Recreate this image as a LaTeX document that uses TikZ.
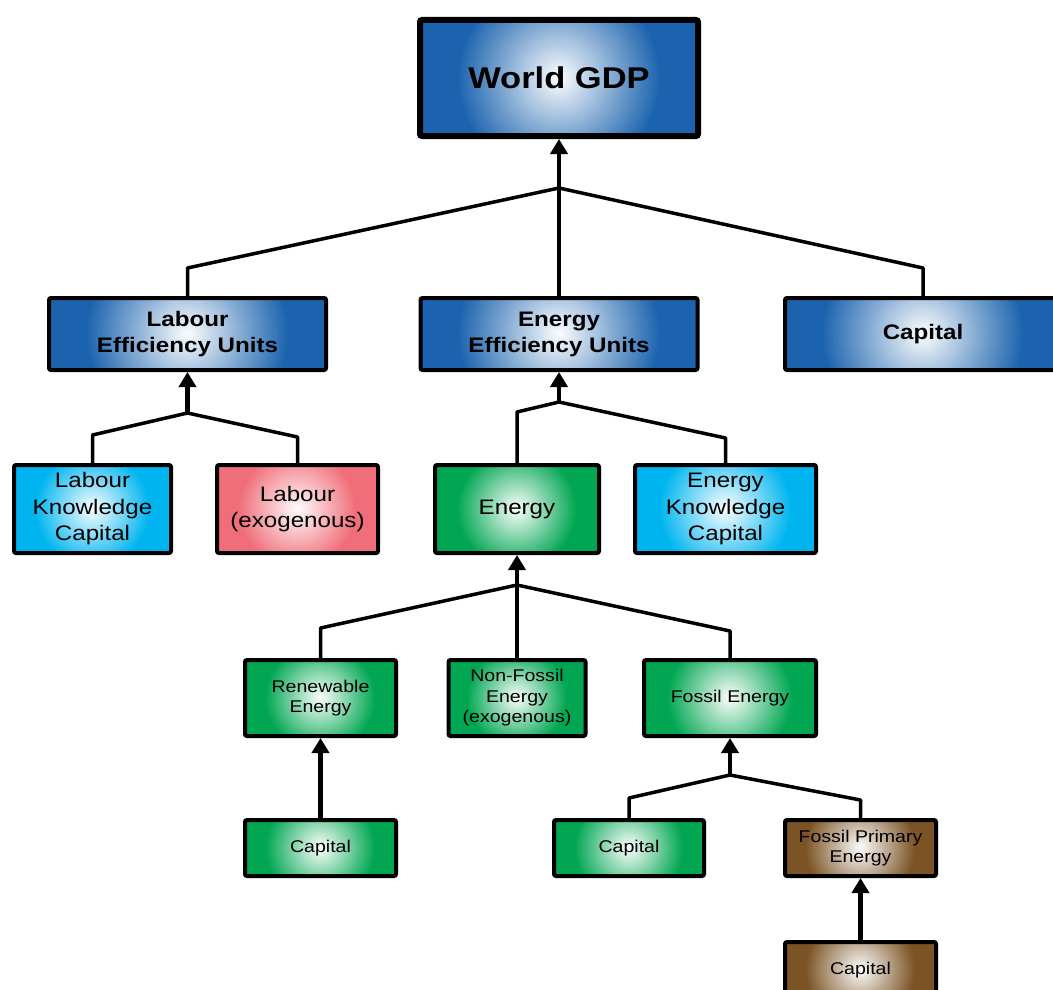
\documentclass[tikz,border=0pt]{standalone}
\usepackage{fontspec}
\setmainfont{Liberation Sans}[FakeStretch=1.15]
\usepackage{tikz}
\usetikzlibrary{arrows.meta,calc,positioning}
\definecolor{wgblue}{HTML}{1B63AE}
\definecolor{wgcyan}{HTML}{00B5EF}
\definecolor{wgred}{HTML}{EF6E79}
\definecolor{wggreen}{HTML}{00A651}
\definecolor{wgbrown}{HTML}{7B5324}
\newcommand\gdpfnt{\fontsize{30}{35}\selectfont\bfseries}
\newcommand\headfnt{\fontsize{21}{26}\selectfont\bfseries}
\newcommand\midfnt{\fontsize{21}{26.5}\selectfont}
\newcommand\smallfnt{\fontsize{17}{20.5}\selectfont}
\tikzset{
  glow/.style={draw=black,line width=4pt,rounded corners=2pt,fill=#1,align=center,
    inner sep=0pt,text=black,
    path picture={
      \foreach \k [evaluate=\k as \pct using {100*\k/40}] in {40,39,...,1}
        \fill[#1!\pct!white]
          let \p1=(path picture bounding box.east),\p2=(path picture bounding box.west) in
          (path picture bounding box.center) circle ({0.37*(\x1-\x2)*\k/40});}},
  gdpbox/.style={glow=wgblue,line width=6pt,minimum width=278pt,minimum height=116pt,font=\gdpfnt},
  headbox/.style={glow=wgblue,minimum width=277pt,minimum height=72pt,font=\headfnt},
  midbox/.style={glow=#1,minimum height=88pt,font=\midfnt},
  smallbox/.style={glow=#1,minimum width=151pt,font=\smallfnt},
  link/.style={line width=3.5pt,line join=round},
  flow/.style={-{Triangle[length=15pt,width=17pt]},line width=4.5pt}
}
\begin{document}
\begin{tikzpicture}[x=1pt,y=1pt]
  \useasboundingbox (0,0) rectangle (1053,-990);
  \node[gdpbox] (gdp) at (559,-78) {World GDP};
  \node[headbox] (leu) at (187.5,-334) {Labour\\Efficiency Units};
  \node[headbox] (eeu) at (559,-334) {Energy\\Efficiency Units};
  \node[headbox,minimum width=276pt] (cap) at (923,-334) {Capital};
  \node[midbox=wgcyan,minimum width=157pt] (lkc) at (92.5,-509) {Labour\\Knowledge\\Capital};
  \node[midbox=wgred,minimum width=161pt] (lab) at (297.5,-509) {Labour\\(exogenous)};
  \node[midbox=wggreen,minimum width=164pt] (en) at (517,-509) {Energy};
  \node[midbox=wgcyan,minimum width=181pt] (ekc) at (725.5,-509) {Energy\\Knowledge\\Capital};
  \node[smallbox=wggreen,minimum height=76pt] (ren) at (320.5,-698) {Renewable\\Energy};
  \node[smallbox=wggreen,minimum height=76pt,minimum width=137pt] (nfe) at (517,-698) {Non-Fossil\\Energy\\(exogenous)};
  \node[smallbox=wggreen,minimum height=76pt,minimum width=172pt] (fe) at (730,-698) {Fossil Energy};
  \node[smallbox=wggreen,minimum height=56pt,below=80pt of ren] (capr) {Capital};
  \node[smallbox=wggreen,minimum height=56pt,minimum width=150pt] (capf) at (629,-848) {Capital};
  \node[smallbox=wgbrown,minimum height=56pt] (fpe) at (860.5,-848) {Fossil Primary\\Energy};
  \node[smallbox=wgbrown,minimum height=56pt,below=62pt of fpe] (capb) {Capital};
  \coordinate (j0) at (559,-188);
  \coordinate (j1) at (187.5,-413);
  \coordinate (j2) at (559,-402);
  \coordinate (j3) at (517,-585);
  \coordinate (j4) at (730,-775);
  \draw[flow] (j0) -- (gdp.south);
  \draw[link] (leu.north) -- ++(0,28) -- (j0);
  \draw[link] (eeu.north) -- (j0);
  \draw[link] (cap.north) -- ++(0,28) -- (j0);
  \draw[flow] (j1) -- (leu.south);
  \draw[link] (lkc.north) -- ++(0,28) -- (j1);
  \draw[link] (lab.north) -- ++(0,26) -- (j1);
  \draw[flow] (j2) -- (eeu.south);
  \draw[link] (en.north) -- ++(0,51) -- (j2);
  \draw[link] (ekc.north) -- ++(0,25) -- (j2);
  \draw[flow] (j3) -- (en.south);
  \draw[link] (ren.north) -- ++(0,30) -- (j3);
  \draw[link] (nfe.north) -- (j3);
  \draw[link] (fe.north) -- ++(0,27) -- (j3);
  \draw[flow] (j4) -- (fe.south);
  \draw[link] (capf.north) -- ++(0,20) -- (j4);
  \draw[link] (fpe.north) -- ++(0,18) -- (j4);
  \draw[flow] (capr) -- (ren);
  \draw[flow] (capb) -- (fpe);
\end{tikzpicture}
\end{document}
